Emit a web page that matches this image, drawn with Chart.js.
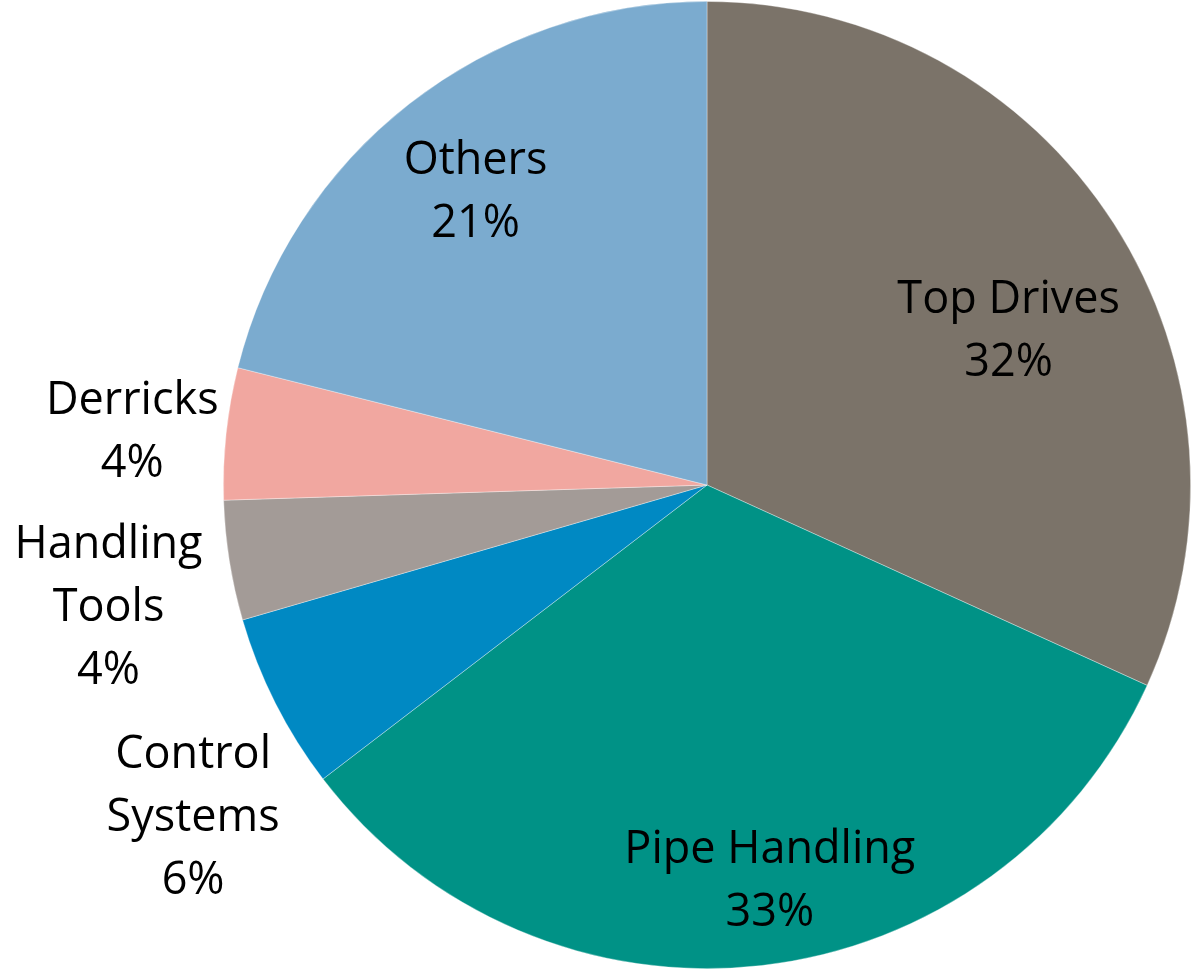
<!DOCTYPE html>
<html>
<head>
<meta charset="utf-8">
<script src="https://cdn.jsdelivr.net/npm/chart.js@4"></script>
<style>
  html, body { margin: 0; padding: 0; background: #ffffff; }
  #wrap { width: 1192px; height: 973px; position: relative; }
</style>
</head>
<body>
<div id="wrap"><canvas id="c" width="1192" height="973"></canvas></div>
<script>
// ---- Data ----
const categories = ["Top Drives", "Pipe Handling", "Control Systems", "Handling Tools", "Derricks", "Others"];
const labelLines = [["Top Drives"], ["Pipe Handling"], ["Control", "Systems"], ["Handling", "Tools"], ["Derricks"], ["Others"]];
const shares = [31.8, 32.8, 5.9, 4.0, 4.4, 21.1];
const sliceColors = ["#7B7369", "#009286", "#0089C3", "#A39B97", "#F1A7A0", "#7BABCF"];

// label placement: [angle offset from slice mid (deg), radius factor]
const labelPlacement = [[5.3, 0.703], [-2.6, 0.823], [-5.9, 1.263], [-2.3, 1.262], [-0.6, 1.194], [-0.1, 0.776]];

const labelPlugin = {
  id: 'sliceLabels',
  afterDatasetsDraw(chart) {
    const ctx = chart.ctx;
    const meta = chart.getDatasetMeta(0);
    ctx.save();
    ctx.font = '45px "Open Sans"';
    ctx.fillStyle = '#000000';
    ctx.textAlign = 'center';
    ctx.textBaseline = 'alphabetic';
    const lh = 63, capH = 32;
    meta.data.forEach((arc, i) => {
      const p = arc.getProps(['x', 'y', 'startAngle', 'endAngle', 'outerRadius'], true);
      const mid = (p.startAngle + p.endAngle) / 2 + labelPlacement[i][0] * Math.PI / 180;
      const r = p.outerRadius * labelPlacement[i][1];
      const cx = p.x + Math.cos(mid) * r;
      const cy = p.y + Math.sin(mid) * r;
      const lines = labelLines[i].concat([Math.round(shares[i]) + '%']);
      const n = lines.length;
      lines.forEach((t, k) => {
        const by = cy + capH / 2 + (k - (n - 1) / 2) * lh;
        ctx.fillText(t, cx, by);
      });
    });
    ctx.restore();
  }
};

new Chart(document.getElementById('c'), {
  type: 'pie',
  data: {
    labels: categories,
    datasets: [{
      data: shares,
      backgroundColor: sliceColors,
      borderColor: 'rgba(255,255,255,0.45)',
      borderWidth: 0.75,
      hoverOffset: 0
    }]
  },
  options: {
    responsive: false,
    animation: false,
    layout: { padding: { left: 223, right: 1, top: 1, bottom: 4 } },
    plugins: {
      legend: { display: false },
      tooltip: { enabled: false },
      title: { display: false }
    },
    events: []
  },
  plugins: [labelPlugin]
});
</script>
</body>
</html>
